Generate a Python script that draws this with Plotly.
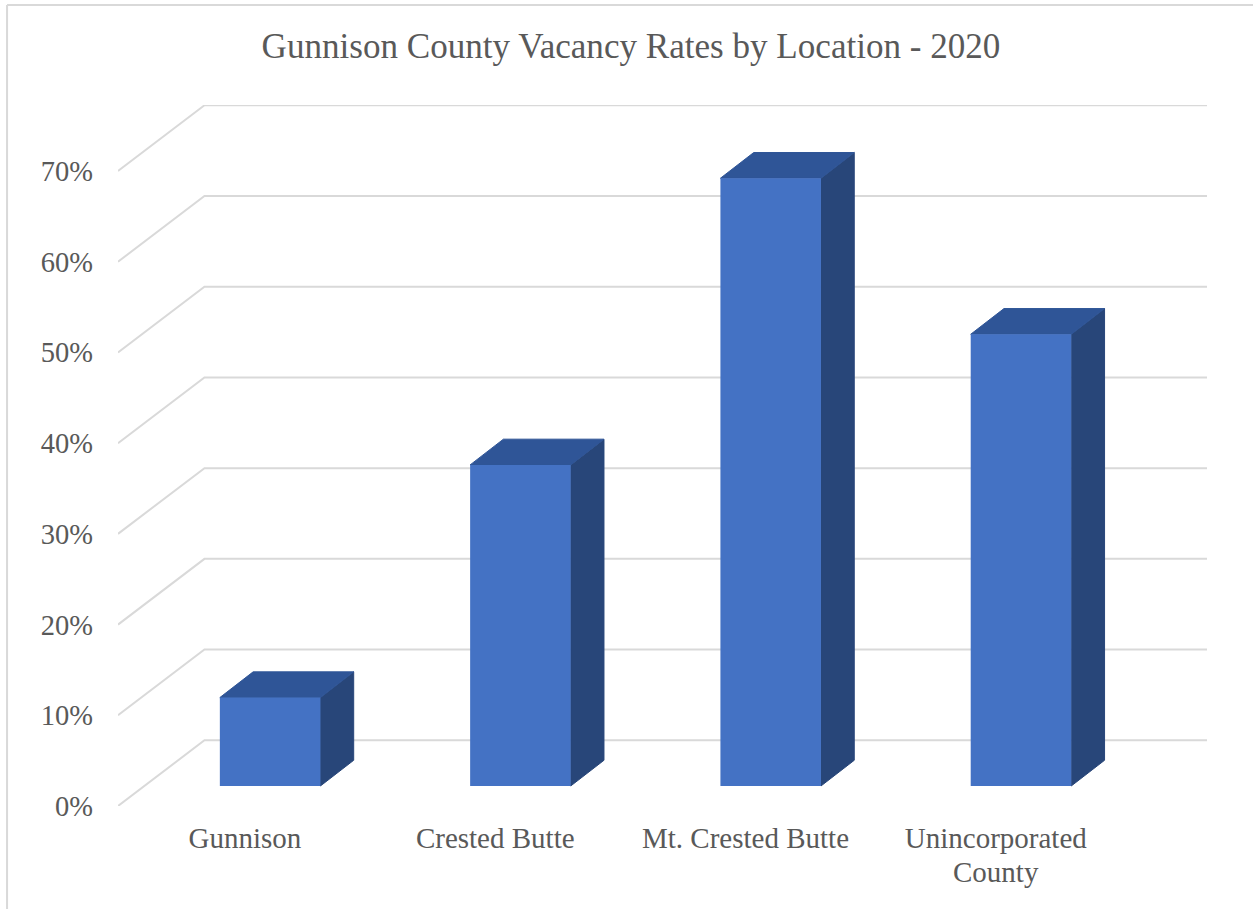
import plotly.graph_objects as go

categories = ["Gunnison", "Crested Butte", "Mt. Crested Butte", "Unincorporated"]
category_second_line = ["", "", "", "County"]
values = [9.75, 35.4, 67.0, 49.8]
grid_ticks = [0, 10, 20, 30, 40, 50, 60, 70]
tick_labels = ["0%", "10%", "20%", "30%", "40%", "50%", "60%", "70%"]

FRONT, TOP, SIDE, GRID, TEXT = "#4472C4", "#2F5597", "#284679", "#D9D9D9", "#595959"
FONT = "Liberation Serif"

W, H = 1253, 909
L, R, T, B = 117.5, 1207, 105, 805.7
PX_X = 250.4          # pixels per category
PX_Y = 9.067          # pixels per percentage point
x0 = -(244.5 - L) / PX_X
x1 = x0 + (R - L) / PX_X
y1 = (B - T) / PX_Y

floor_dx, floor_dy = 86.5 / PX_X, 65.7 / PX_Y      # depth of the floor
bar_shift_x, bar_shift_y = 25.2 / PX_X, 20 / PX_Y  # front of bar relative to label plane
bar_dx, bar_dy = 33.3 / PX_X, 25.7 / PX_Y          # depth of a bar
half = 50.3 / PX_X

fig = go.Figure()

# walls: gridlines on the back wall with slanted floor/side lines
for v in grid_ticks:
    fig.add_trace(go.Scatter(
        x=[x0, x0 + floor_dx, x1], y=[v, v + floor_dy, v + floor_dy],
        mode="lines", line=dict(color=GRID, width=2), hoverinfo="skip", showlegend=False))

for i, v in enumerate(values):
    xl = i + bar_shift_x - half
    xr = i + bar_shift_x + half
    yb = bar_shift_y
    yt = bar_shift_y + v
    # side face
    fig.add_trace(go.Scatter(
        x=[xr, xr + bar_dx, xr + bar_dx, xr, xr], y=[yb, yb + bar_dy, yt + bar_dy, yt, yb],
        mode="lines", fill="toself", fillcolor=SIDE, line=dict(width=1, color=SIDE),
        hoverinfo="skip", showlegend=False))
    # top face
    fig.add_trace(go.Scatter(
        x=[xl, xl + bar_dx, xr + bar_dx, xr, xl], y=[yt, yt + bar_dy, yt + bar_dy, yt, yt],
        mode="lines", fill="toself", fillcolor=TOP, line=dict(width=1, color=TOP),
        hoverinfo="skip", showlegend=False))
    # front face
    fig.add_trace(go.Scatter(
        x=[xl, xr, xr, xl, xl], y=[yb, yb, yt, yt, yb],
        mode="lines", fill="toself", fillcolor=FRONT, line=dict(width=0, color=FRONT),
        name=(categories[i] + " " + category_second_line[i]).strip(), showlegend=False))

PW, PH = R - L, B - T
frame_x = (6.5 - L) / PW
frame_y = (B - 5) / PH

fig.update_layout(
    width=W, height=H, autosize=False,
    margin=dict(l=L, r=W - R, t=T, b=H - B, pad=0),
    paper_bgcolor="white", plot_bgcolor="white",
    font=dict(family=FONT, color=TEXT, size=29),
    title=dict(text="Gunnison County Vacancy Rates by Location - 2020",
               x=631 / W, xanchor="center", y=1 - 46 / H, yanchor="middle",
               font=dict(family=FONT, size=35.1, color=TEXT)),
    xaxis=dict(range=[x0, x1], tickmode="array", tickvals=list(range(len(categories))),
               ticktext=categories, showgrid=False, zeroline=False, showline=False,
               ticks="", ticklabelstandoff=12, tickangle=0),
    yaxis=dict(range=[0, y1], tickmode="array", tickvals=grid_ticks, ticktext=tick_labels,
               tickfont=dict(size=28.5),
               showgrid=False, zeroline=False, showline=False, ticks="", ticklabelstandoff=24),
    shapes=[
        dict(type="line", xref="paper", yref="paper", x0=frame_x, x1=(W - L) / PW,
             y0=frame_y, y1=frame_y, line=dict(color=GRID, width=2)),
        dict(type="line", xref="paper", yref="paper", x0=frame_x, x1=frame_x,
             y0=frame_y, y1=(B - H) / PH, line=dict(color=GRID, width=2)),
    ],
)

# second line of a two-line category label, tighter than plotly's <br> leading
for i, extra in enumerate(category_second_line):
    if extra:
        fig.add_annotation(x=i, xref="x", y=(B - 872) / PH, yref="paper", text=extra,
                           showarrow=False, xanchor="center", yanchor="middle",
                           font=dict(family=FONT, size=29, color=TEXT))

fig.write_html("out.html", config=dict(displayModeBar=False),
               post_script="document.body.style.margin='0';")
